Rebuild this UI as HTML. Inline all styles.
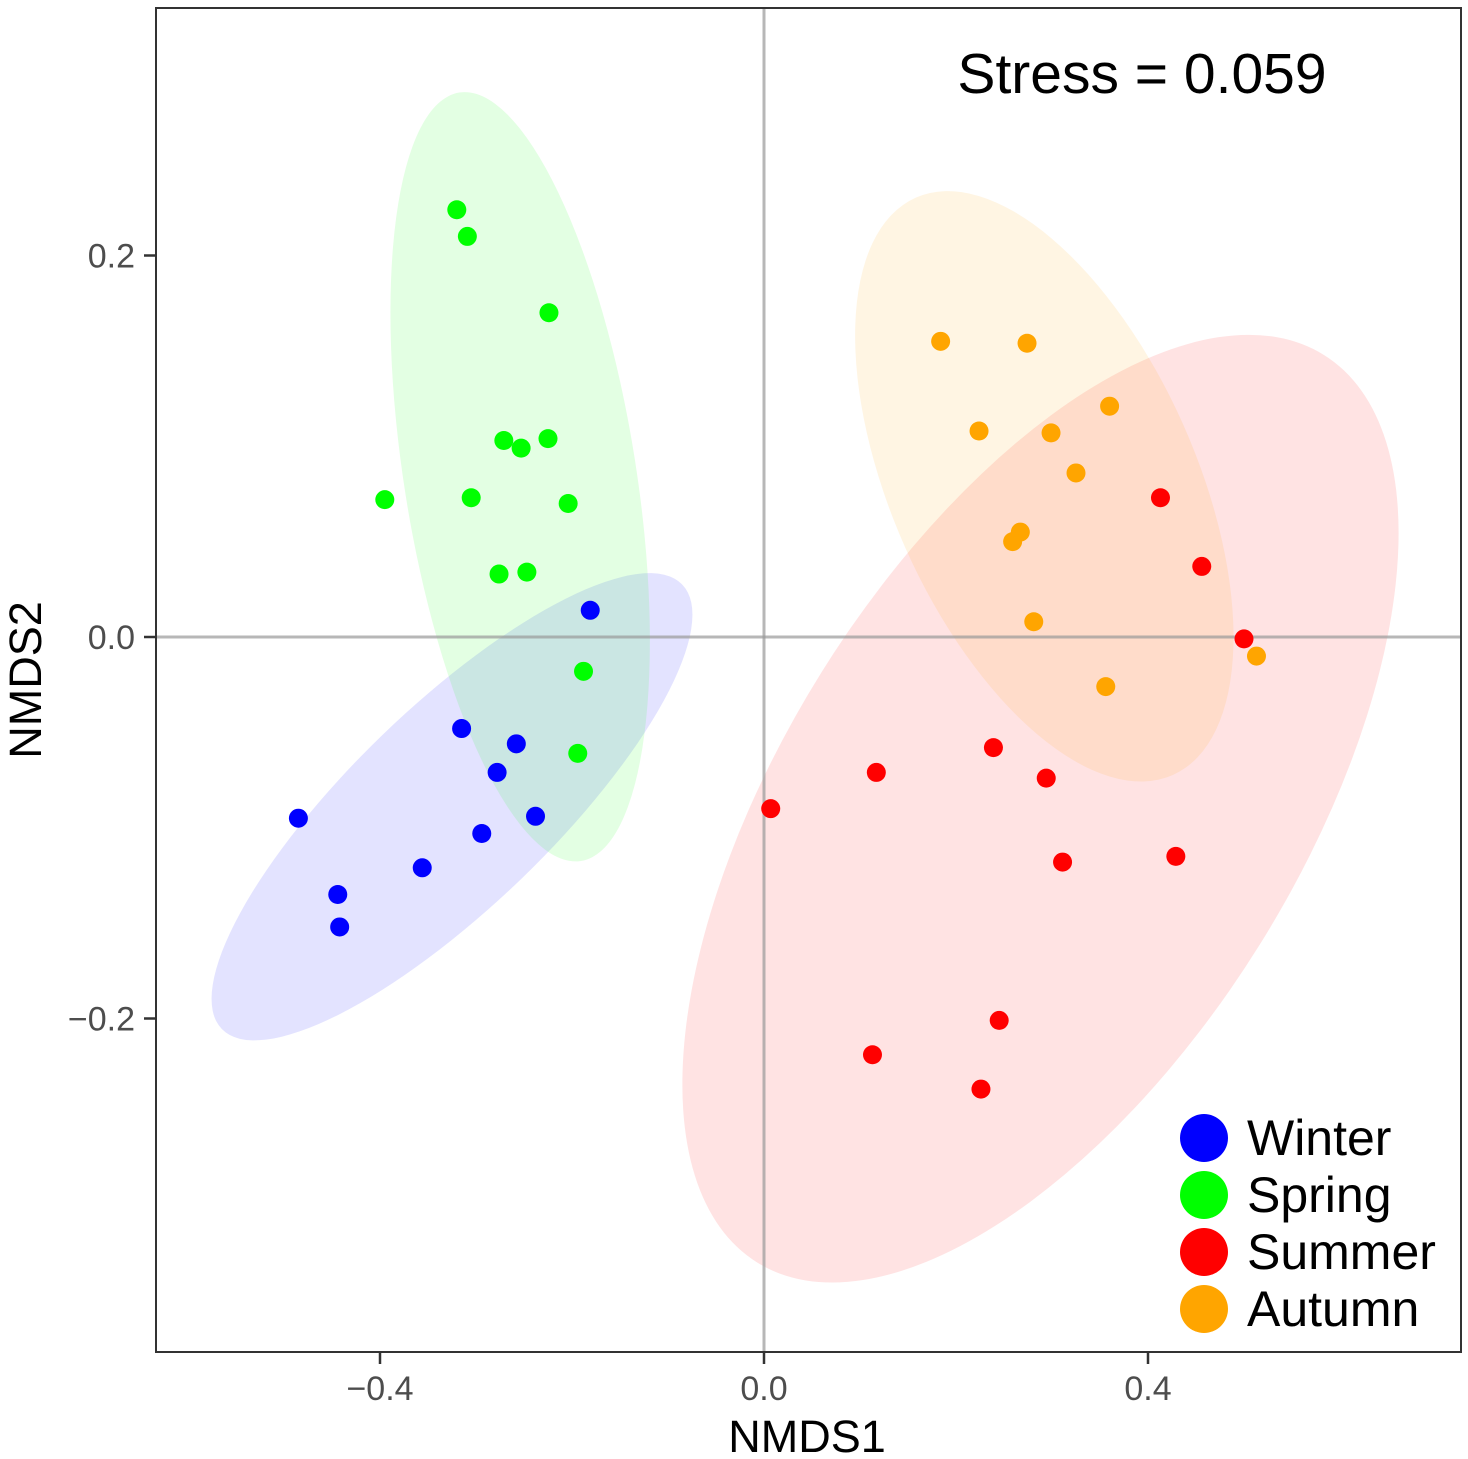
<!DOCTYPE html>
<html><head><meta charset="utf-8"><style>
html,body{margin:0;padding:0;background:#fff;}
svg{display:block;font-family:"Liberation Sans",Arial,sans-serif;}
</style></head><body>
<svg id="chart" width="1468" height="1459" viewBox="0 0 1468 1459">
<g id="ellipses"></g>
<g id="refs"></g>
<g id="points"></g>
<rect x="156" y="8" width="1305" height="1344" fill="none" stroke="#333" stroke-width="2"/>
<g id="axes"></g>
<text x="1142" y="93" font-size="57" text-anchor="middle" fill="#000">Stress = 0.059</text>
<text x="807" y="1452" font-size="45" text-anchor="middle" fill="#000">NMDS1</text>
<text transform="translate(41,680) rotate(-90)" font-size="45" text-anchor="middle" fill="#000">NMDS2</text>
<g id="legend"></g>
</svg>
<script>
const groups = ["Winter","Spring","Summer","Autumn"];
const colors = ["#0000ff","#00ff00","#ff0000","#ffa500"];
const winterX = [-0.181,-0.315,-0.258,-0.278,-0.485,-0.238,-0.294,-0.356,-0.444,-0.442];
const winterY = [0.014,-0.048,-0.056,-0.071,-0.095,-0.094,-0.103,-0.121,-0.135,-0.152];
const springX = [-0.320,-0.309,-0.224,-0.271,-0.253,-0.225,-0.305,-0.395,-0.204,-0.276,-0.247,-0.188,-0.194];
const springY = [0.224,0.210,0.170,0.103,0.099,0.104,0.073,0.072,0.070,0.033,0.034,-0.018,-0.061];
const summerX = [0.413,0.456,0.500,0.239,0.117,0.294,0.007,0.311,0.429,0.245,0.113,0.226];
const summerY = [0.073,0.037,-0.001,-0.058,-0.071,-0.074,-0.090,-0.118,-0.115,-0.201,-0.219,-0.237];
const autumnX = [0.184,0.274,0.360,0.224,0.299,0.325,0.267,0.259,0.281,0.513,0.356];
const autumnY = [0.155,0.154,0.121,0.108,0.107,0.086,0.055,0.050,0.008,-0.010,-0.026];
const xTicks = [-0.4,0.0,0.4];
const yTicks = [0.2,0.0,-0.2];
const xTickLabels = ["\u22120.4","0.0","0.4"];
const yTickLabels = ["0.2","0.0","\u22120.2"];
const ellCX = [-0.325,-0.254,0.288,0.292];
const ellCY = [-0.089,0.084,-0.090,0.079];

const NS="http://www.w3.org/2000/svg";
const sx = v => 764 + v*960;
const sy = v => 637 - v*1907.5;
function mk(tag, attrs, parent){const e=document.createElementNS(NS,tag);for(const k in attrs)e.setAttribute(k,attrs[k]);parent.appendChild(e);return e;}

const eg=document.getElementById('ellipses');
const ellRx=[320,389,535,316], ellRy=[100,116,258,152], ellAng=[-44,81,-58,66];
for(let i=0;i<4;i++){
  const e=mk('ellipse',{cx:sx(ellCX[i]),cy:sy(ellCY[i]),rx:ellRx[i],ry:ellRy[i],fill:colors[i],'fill-opacity':0.11,transform:`rotate(${ellAng[i]} ${sx(ellCX[i])} ${sy(ellCY[i])})`},eg);
  
  
}
const rg=document.getElementById('refs');
let l1=mk('line',{x1:sx(0),x2:sx(0),y1:8,y2:1352,stroke:'#999','stroke-opacity':0.7,'stroke-width':3},rg);


let l2=mk('line',{x1:156,x2:1461,y1:sy(0),y2:sy(0),stroke:'#999','stroke-opacity':0.7,'stroke-width':3},rg);



const pg=document.getElementById('points');
const XS=[winterX,springX,summerX,autumnX], YS=[winterY,springY,summerY,autumnY];
for(let g=0;g<4;g++){
  for(let i=0;i<XS[g].length;i++){
    const c=mk('circle',{cx:sx(XS[g][i]),cy:sy(YS[g][i]),r:9.5,fill:colors[g]},pg);
    
    
  }
}
const ag=document.getElementById('axes');
xTicks.forEach((t,i)=>{
  const tk=mk('line',{x1:sx(t),x2:sx(t),y1:1352,y2:1364,stroke:'#333','stroke-width':2.5},ag);
  
  
  const tx=mk('text',{x:sx(t),y:1400,'font-size':34,'text-anchor':'middle',fill:'#4d4d4d'},ag);
  tx.textContent=xTickLabels[i];
  
  
});
yTicks.forEach((t,i)=>{
  const tk=mk('line',{x1:144,x2:156,y1:sy(t),y2:sy(t),stroke:'#333','stroke-width':2.5},ag);
  
  
  const tx=mk('text',{x:135,y:sy(t)+12,'font-size':34,'text-anchor':'end',fill:'#4d4d4d'},ag);
  tx.textContent=yTickLabels[i];
  
  
});
const lg=document.getElementById('legend');
groups.forEach((g,i)=>{
  const y=1138+i*57;
  const c=mk('circle',{cx:1204,cy:y,r:24,fill:colors[i]},lg);
  
  
  const t=mk('text',{x:1247,y:y+17,'font-size':50,fill:'#000'},lg);
  t.textContent=g;
  
  
});
</script>
</body></html>
